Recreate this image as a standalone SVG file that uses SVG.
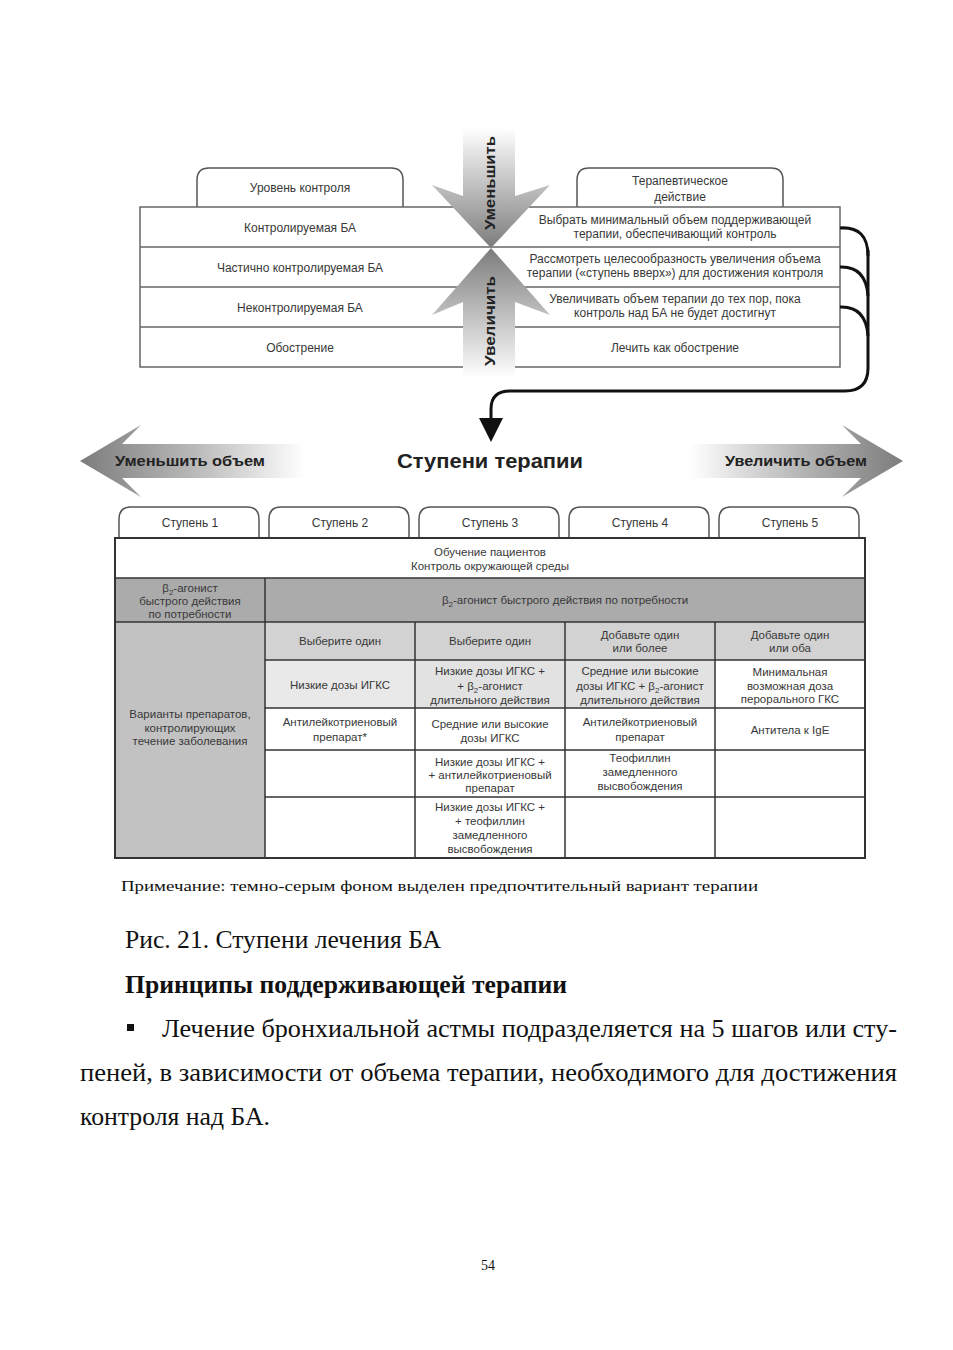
<svg xmlns="http://www.w3.org/2000/svg" width="953" height="1350" viewBox="0 0 953 1350">
<defs>
<linearGradient id="gDown" gradientUnits="userSpaceOnUse" x1="0" y1="128" x2="0" y2="248">
<stop offset="0" stop-color="#ffffff"/><stop offset="0.45" stop-color="#c4c4c4"/><stop offset="1" stop-color="#7c7c7c"/>
</linearGradient>
<linearGradient id="gUp" gradientUnits="userSpaceOnUse" x1="0" y1="248" x2="0" y2="378">
<stop offset="0" stop-color="#7c7c7c"/><stop offset="0.55" stop-color="#c4c4c4"/><stop offset="1" stop-color="#ffffff"/>
</linearGradient>
<linearGradient id="gLeft" gradientUnits="userSpaceOnUse" x1="80" y1="0" x2="305" y2="0">
<stop offset="0" stop-color="#7c7c7c"/><stop offset="0.5" stop-color="#b8b8b8"/><stop offset="1" stop-color="#ffffff"/>
</linearGradient>
<linearGradient id="gRight" gradientUnits="userSpaceOnUse" x1="903" y1="0" x2="690" y2="0">
<stop offset="0" stop-color="#7c7c7c"/><stop offset="0.5" stop-color="#b8b8b8"/><stop offset="1" stop-color="#ffffff"/>
</linearGradient>
</defs>
<style>
.t{font-family:"Liberation Sans",Arial,sans-serif;font-size:12px;fill:#383838;text-anchor:middle}
.s{font-family:"Liberation Sans",Arial,sans-serif;font-size:11.5px;fill:#383838;text-anchor:middle}
.b{font-family:"Liberation Sans",Arial,sans-serif;font-weight:bold;fill:#222}
.tab{fill:#fff;stroke:#555;stroke-width:1.5}
.ln{stroke:#666;stroke-width:1.5;fill:none}
.dl{stroke:#333;stroke-width:1.5;fill:none}
.serif{font-family:"Liberation Serif","Times New Roman",serif;fill:#111}
.con{stroke:#111;stroke-width:3;fill:none}
</style>
<rect width="953" height="1350" fill="#fff"/>

<g id="control-header">
<path class="tab" d="M197,207 L197,180 Q197,168 209,168 L391,168 Q403,168 403,180 L403,207"/>
<text class="t" x="300" y="192" font-size="13">Уровень контроля</text>
</g>
<g id="action-header">
<path class="tab" d="M577,207 L577,180 Q577,168 589,168 L771,168 Q783,168 783,180 L783,207"/>
<text class="t" x="680" y="185" font-size="13">Терапевтическое</text>
<text class="t" x="680" y="201" font-size="13">действие</text>
</g>

<g id="control-table">
<rect x="140" y="207" width="700" height="160" fill="#fff" class="ln"/>
<line class="ln" x1="140" y1="247" x2="840" y2="247"/>
<line class="ln" x1="140" y1="287" x2="840" y2="287"/>
<line class="ln" x1="140" y1="327" x2="840" y2="327"/>
</g>
<g id="row-controlled">
<text class="t" x="300" y="232">Контролируемая БА</text>
<text class="t" x="675" y="224">Выбрать минимальный объем поддерживающей</text>
<text class="t" x="675" y="238">терапии, обеспечивающий контроль</text>
</g>
<g id="row-partial">
<text class="t" x="300" y="272">Частично контролируемая БА</text>
<text class="t" x="675" y="263">Рассмотреть целесообразность увеличения объема</text>
<text class="t" x="675" y="277">терапии («ступень вверх») для достижения контроля</text>
</g>
<g id="row-uncontrolled">
<text class="t" x="300" y="312">Неконтролируемая БА</text>
<text class="t" x="675" y="303">Увеличивать объем терапии до тех пор, пока</text>
<text class="t" x="675" y="317">контроль над БА не будет достигнут</text>
</g>
<g id="row-exacerbation">
<text class="t" x="300" y="352">Обострение</text>
<text class="t" x="675" y="352">Лечить как обострение</text>
</g>

<g id="arrow-decrease">
<polygon points="463,128 515,128 515,196 550,185 491,248 432,185 463,196" fill="url(#gDown)"/>
<text class="b" font-size="14" transform="translate(495,183) rotate(-90)" text-anchor="middle" textLength="94" lengthAdjust="spacingAndGlyphs">Уменьшить</text>
</g>
<g id="arrow-increase">
<polygon points="491,248 550,315 515,302 515,380 463,380 463,302 432,315" fill="url(#gUp)"/>
<text class="b" font-size="14" transform="translate(495,321) rotate(-90)" text-anchor="middle" textLength="90" lengthAdjust="spacingAndGlyphs">Увеличить</text>
</g>

<g id="connectors">
<path class="con" d="M840,228 Q868,226 868,256"/>
<path class="con" d="M840,267 Q866,266 868,296"/>
<path class="con" d="M840,307 Q866,306 868,336"/>
<path class="con" d="M868,250 L868,368 Q868,391 845,391 L510,391 Q491,391 491,409 L491,422"/>
<polygon points="479,418 503,418 491,442" fill="#111"/>
</g>

<g id="reduce-volume">
<polygon points="80,461 141,425 122,444 305,444 305,478 122,478 141,497" fill="url(#gLeft)"/>
<text class="b" x="115" y="466" font-size="14" textLength="150" lengthAdjust="spacingAndGlyphs">Уменьшить объем</text>
</g>
<g id="title">
<text class="b" x="490" y="468" font-size="20" text-anchor="middle" textLength="186" lengthAdjust="spacingAndGlyphs">Ступени терапии</text>
</g>
<g id="increase-volume">
<polygon points="903,461 842,425 861,444 690,444 690,478 861,478 842,497" fill="url(#gRight)"/>
<text class="b" x="725" y="466" font-size="14" textLength="142" lengthAdjust="spacingAndGlyphs">Увеличить объем</text>
</g>

<g id="step1"><path class="tab" d="M119,538 L119,519 Q119,507 131,507 L247,507 Q259,507 259,519 L259,538"/><text class="t" x="190" y="527" font-size="13">Ступень 1</text></g>
<g id="step2"><path class="tab" d="M269,538 L269,519 Q269,507 281,507 L397,507 Q409,507 409,519 L409,538"/><text class="t" x="340" y="527" font-size="13">Ступень 2</text></g>
<g id="step3"><path class="tab" d="M419,538 L419,519 Q419,507 431,507 L547,507 Q559,507 559,519 L559,538"/><text class="t" x="490" y="527" font-size="13">Ступень 3</text></g>
<g id="step4"><path class="tab" d="M569,538 L569,519 Q569,507 581,507 L697,507 Q709,507 709,519 L709,538"/><text class="t" x="640" y="527" font-size="13">Ступень 4</text></g>
<g id="step5"><path class="tab" d="M719,538 L719,519 Q719,507 731,507 L847,507 Q859,507 859,519 L859,538"/><text class="t" x="790" y="527" font-size="13">Ступень 5</text></g>

<g id="steps-table">
<rect x="115" y="538" width="750" height="320" fill="#fff"/>
<rect x="115" y="578" width="750" height="44" fill="#ababab"/>
<rect x="115" y="622" width="150" height="236" fill="#c2c2c2"/>
<rect x="265" y="622" width="600" height="38" fill="#d2d2d2"/>
<rect x="265" y="660" width="150" height="48" fill="#e9e9e9"/>
<rect x="415" y="660" width="300" height="48" fill="#e2e2e2"/>
<line class="dl" x1="115" y1="578" x2="865" y2="578"/>
<line class="dl" x1="115" y1="622" x2="865" y2="622"/>
<line class="dl" x1="265" y1="660" x2="865" y2="660"/>
<line class="dl" x1="265" y1="708" x2="865" y2="708"/>
<line class="dl" x1="265" y1="750" x2="865" y2="750"/>
<line class="dl" x1="265" y1="797" x2="865" y2="797"/>
<line class="dl" x1="265" y1="578" x2="265" y2="858"/>
<line class="dl" x1="415" y1="622" x2="415" y2="858"/>
<line class="dl" x1="565" y1="622" x2="565" y2="858"/>
<line class="dl" x1="715" y1="622" x2="715" y2="858"/>
<rect x="115" y="538" width="750" height="320" fill="none" stroke="#333" stroke-width="2"/>
</g>
<g id="education">
<text class="s" x="490" y="556">Обучение пациентов</text>
<text class="s" x="490" y="570">Контроль окружающей среды</text>
</g>
<g id="reliever-step1">
<text class="s" x="190" y="592">β<tspan font-size="8" dy="3">2</tspan><tspan dy="-3">-агонист</tspan></text>
<text class="s" x="190" y="605">быстрого действия</text>
<text class="s" x="190" y="618">по потребности</text>
</g>
<g id="reliever-steps2-5">
<text class="s" x="565" y="604">β<tspan font-size="8" dy="3">2</tspan><tspan dy="-3">-агонист быстрого действия по потребности</tspan></text>
</g>
<g id="controller-options">
<text class="s" x="190" y="718">Варианты препаратов,</text>
<text class="s" x="190" y="732">контролирующих</text>
<text class="s" x="190" y="745">течение заболевания</text>
</g>
<g id="head2"><text class="s" x="340" y="645">Выберите один</text></g>
<g id="head3"><text class="s" x="490" y="645">Выберите один</text></g>
<g id="head4"><text class="s" x="640" y="639">Добавьте один</text><text class="s" x="640" y="652">или более</text></g>
<g id="head5"><text class="s" x="790" y="639">Добавьте один</text><text class="s" x="790" y="652">или оба</text></g>

<g id="c2-1"><text class="s" x="340" y="689">Низкие дозы ИГКС</text></g>
<g id="c3-1">
<text class="s" x="490" y="675">Низкие дозы ИГКС +</text>
<text class="s" x="490" y="690">+ β<tspan font-size="8" dy="3">2</tspan><tspan dy="-3">-агонист</tspan></text>
<text class="s" x="490" y="704">длительного действия</text>
</g>
<g id="c4-1">
<text class="s" x="640" y="675">Средние или высокие</text>
<text class="s" x="640" y="690">дозы ИГКС + β<tspan font-size="8" dy="3">2</tspan><tspan dy="-3">-агонист</tspan></text>
<text class="s" x="640" y="704">длительного действия</text>
</g>
<g id="c5-1">
<text class="s" x="790" y="676">Минимальная</text>
<text class="s" x="790" y="690">возможная доза</text>
<text class="s" x="790" y="703">перорального ГКС</text>
</g>
<g id="c2-2"><text class="s" x="340" y="726">Антилейкотриеновый</text><text class="s" x="340" y="741">препарат*</text></g>
<g id="c3-2"><text class="s" x="490" y="728">Средние или высокие</text><text class="s" x="490" y="742">дозы ИГКС</text></g>
<g id="c4-2"><text class="s" x="640" y="726">Антилейкотриеновый</text><text class="s" x="640" y="741">препарат</text></g>
<g id="c5-2"><text class="s" x="790" y="734">Антитела к IgE</text></g>
<g id="c3-3">
<text class="s" x="490" y="766">Низкие дозы ИГКС +</text>
<text class="s" x="490" y="779">+ антилейкотриеновый</text>
<text class="s" x="490" y="792">препарат</text>
</g>
<g id="c4-3">
<text class="s" x="640" y="762">Теофиллин</text>
<text class="s" x="640" y="776">замедленного</text>
<text class="s" x="640" y="790">высвобождения</text>
</g>
<g id="c3-4">
<text class="s" x="490" y="811">Низкие дозы ИГКС +</text>
<text class="s" x="490" y="825">+ теофиллин</text>
<text class="s" x="490" y="839">замедленного</text>
<text class="s" x="490" y="853">высвобождения</text>
</g>

<g id="page-text">
<text class="serif" x="121" y="891" font-size="15" textLength="637" lengthAdjust="spacingAndGlyphs">Примечание: темно-серым фоном выделен предпочтительный вариант терапии</text>
<text class="serif" x="125" y="948" font-size="26" textLength="316" lengthAdjust="spacingAndGlyphs">Рис. 21. Ступени лечения БА</text>
<text class="serif" x="125" y="993" font-size="26" font-weight="bold" textLength="442" lengthAdjust="spacingAndGlyphs">Принципы поддерживающей терапии</text>
<rect x="127" y="1024" width="7" height="7" fill="#111"/>
<text class="serif" x="162" y="1037" font-size="26" textLength="735" lengthAdjust="spacingAndGlyphs">Лечение бронхиальной астмы подразделяется на 5 шагов или сту-</text>
<text class="serif" x="80" y="1081" font-size="26" textLength="817" lengthAdjust="spacingAndGlyphs">пеней, в зависимости от объема терапии, необходимого для достижения</text>
<text class="serif" x="80" y="1125" font-size="26" textLength="190" lengthAdjust="spacingAndGlyphs">контроля над БА.</text>
<text class="serif" x="488" y="1270" font-size="14" text-anchor="middle">54</text>
</g>
</svg>
